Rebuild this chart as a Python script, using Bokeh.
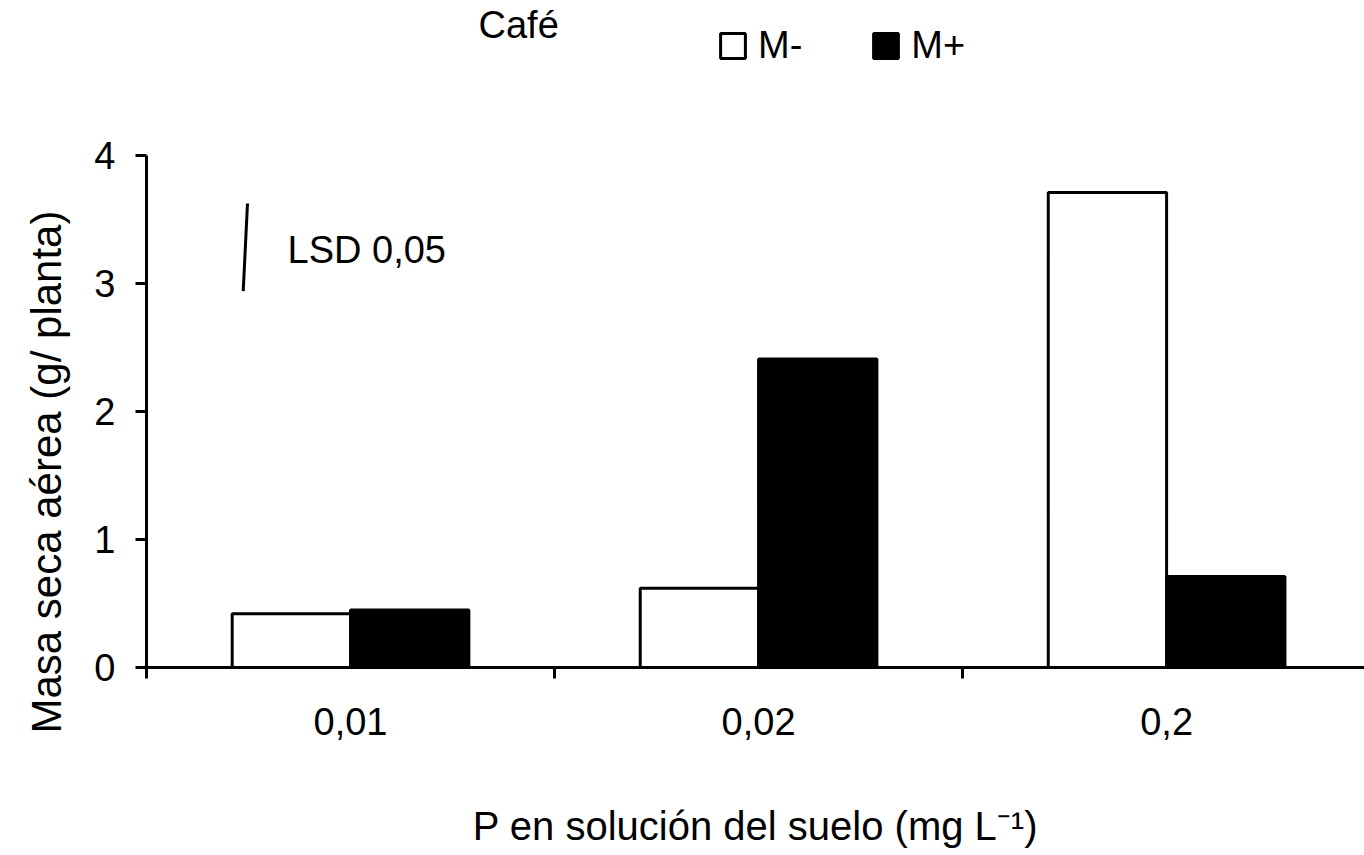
import math
from bokeh.plotting import figure
from bokeh.models import (Range1d, FixedTicker, Label, Legend, LegendItem,
                          ColumnDataSource, Title)
from bokeh.transform import dodge
from bokeh.embed import file_html
from bokeh.resources import INLINE

# ---- data ----
categories = ["0,01", "0,02", "0,2"]
m_minus = [0.42, 0.62, 3.71]
m_plus = [0.45, 2.41, 0.71]
series_names = ["M-", "M+"]
lsd_x = [0.2475, 0.237]
lsd_y = [3.625, 2.94]
lsd_text = "LSD 0,05"
title_text = "Café"
x_label = "P en solución del suelo (mg L\u207b\u00b9)"
y_label = "Masa seca aérea (g/ planta)"
y_ticks = [0, 1, 2, 3, 4]

FONT = "Liberation Sans"

centers = [i + 0.5 for i in range(len(categories))]
src = ColumnDataSource(dict(x=centers, m_minus=m_minus, m_plus=m_plus))

# frame reaches the top of the canvas; the y axis line is bounded to 0..4
p = figure(width=1364, height=855, output_backend="svg", toolbar_location=None,
           x_range=Range1d(0, 2.985), y_range=Range1d(0, 5.2109),
           min_border_left=146, min_border_right=0,
           min_border_top=0, min_border_bottom=188)
p.outline_line_color = None
p.xgrid.visible = False
p.ygrid.visible = False
p.background_fill_color = "white"

bw = 0.29
r1 = p.vbar(x=dodge("x", -0.145, range=p.x_range), top="m_minus", width=bw,
            source=src, fill_color="white", line_color="black", line_width=3)
r2 = p.vbar(x=dodge("x", 0.145, range=p.x_range), top="m_plus", width=bw,
            source=src, fill_color="black", line_color="black", line_width=3)

# LSD bar
p.line(x=lsd_x, y=lsd_y, line_color="black", line_width=3)
p.add_layout(Label(x=0.3456, y=3.26, text=lsd_text, text_font=FONT,
                   text_font_size="38px", text_color="black",
                   text_baseline="alphabetic", text_align="left"))

# chart title
p.add_layout(Label(x=0.8137, y=5.02, text=title_text, text_font=FONT,
                   text_font_size="38px", text_color="black",
                   text_align="left", text_baseline="alphabetic"))

# axes
xa = p.xaxis[0]
xa.ticker = FixedTicker(ticks=centers, minor_ticks=[0, 1, 2])
xa.major_label_overrides = {c: lab for c, lab in zip(centers, categories)}
xa.major_tick_out = 0
xa.major_tick_in = 0
xa.minor_tick_out = 11
xa.minor_tick_in = 0
xa.minor_tick_line_width = 3
xa.minor_tick_line_color = "black"
xa.axis_line_width = 3
xa.axis_line_color = "black"
xa.major_label_text_font = FONT
xa.major_label_text_font_size = "38px"
xa.major_label_text_color = "black"
xa.major_label_standoff = 29
xa.axis_label = x_label
xa.axis_label_text_font = FONT
xa.axis_label_text_font_size = "40px"
xa.axis_label_text_font_style = "normal"
xa.axis_label_text_color = "black"
xa.axis_label_standoff = 66

ya = p.yaxis[0]
ya.bounds = (y_ticks[0], y_ticks[-1])
ya.ticker = FixedTicker(ticks=y_ticks, minor_ticks=[])
ya.major_tick_out = 11
ya.major_tick_in = 0
ya.major_tick_line_width = 3
ya.major_tick_line_color = "black"
ya.minor_tick_out = 0
ya.minor_tick_in = 0
ya.axis_line_width = 3
ya.axis_line_color = "black"
ya.major_label_text_font = FONT
ya.major_label_text_font_size = "38px"
ya.major_label_text_color = "black"
ya.major_label_standoff = 20

# y-axis title as a side title
yt = Title(text=y_label, align="left", offset=-66, standoff=40,
           vertical_align="top",
           text_font=FONT, text_font_size="42px", text_font_style="normal",
           text_color="black")
p.add_layout(yt, "left")

legend = Legend(items=[LegendItem(label=series_names[0], renderers=[r1]),
                       LegendItem(label=series_names[1], renderers=[r2])],
                orientation="horizontal", location=(571, 600),
                glyph_width=31, glyph_height=31, label_standoff=10,
                spacing=68, padding=0, margin=0,
                border_line_color=None, background_fill_alpha=0,
                label_text_font=FONT, label_text_font_size="38px",
                label_text_color="black")
p.add_layout(legend)

open("out.html", "w").write(file_html(p, INLINE))
